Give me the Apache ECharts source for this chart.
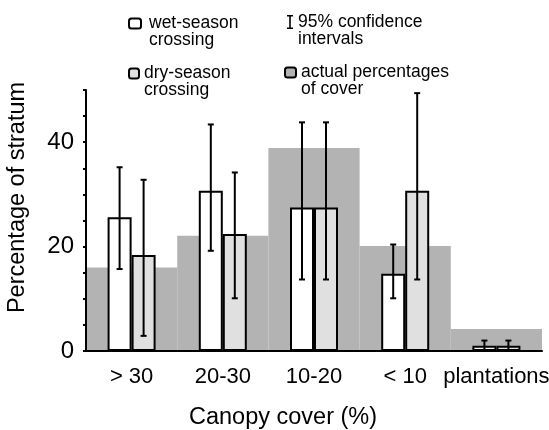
<!DOCTYPE html>
<html><head><meta charset="utf-8">
<script src="https://cdn.jsdelivr.net/npm/echarts@6/dist/echarts.min.js"></script>
<style>html,body{margin:0;padding:0;background:#fff}#c{width:549px;height:430px}</style>
</head><body><div id="c"></div>
<script>
const categories = ['> 30', '20-30', '10-20', '< 10', 'plantations'];
const coverActual = [16.0, 22.1, 38.9, 20.1, 4.2];
const wetSeason = [25.6, 30.7, 27.5, 14.8, 1.0];
const drySeason = [18.4, 22.4, 27.5, 30.7, 1.0];
const wetLow = [15.7, 19.2, 13.7, 10.1, 0];
const wetHigh = [35.2, 43.4, 43.8, 20.4, 2.0];
const dryLow = [2.9, 10.1, 13.7, 13.7, 0];
const dryHigh = [32.8, 34.2, 43.8, 49.4, 2.0];
const yTickLabels = [0, 20, 40];

const FONT = '"Liberation Sans", Arial, Helvetica, sans-serif';
const BAR_W = 24;
const names = {
  wet: 'wet-season crossing',
  dry: 'dry-season crossing',
  ci: '95% confidence intervals',
  cover: 'actual percentages of cover'
};
// a blank first line keeps the first visible line centred on the legend icon
const legendText = {};
legendText[names.wet] = ' \nwet-season\ncrossing';
legendText[names.dry] = ' \ndry-season\ncrossing';
legendText[names.ci] = ' \n95% confidence\nintervals';
legendText[names.cover] = ' \nactual percentages\nof cover';

const errData = [];
categories.forEach((c, i) => {
  errData.push([i, wetLow[i], wetHigh[i], -1]);
  errData.push([i, dryLow[i], dryHigh[i], 1]);
});

function renderErr(params, api) {
  const c = api.value(0), lo = api.value(1), hi = api.value(2), side = api.value(3);
  const pLo = api.coord([c, lo]);
  const pHi = api.coord([c, hi]);
  const x = pLo[0] + side * BAR_W / 2;
  const cap = 3;
  const st = { stroke: '#000', lineWidth: 2 };
  return {
    type: 'group',
    children: [
      { type: 'line', shape: { x1: x, y1: pLo[1], x2: x, y2: pHi[1] }, style: st },
      { type: 'line', shape: { x1: x - cap, y1: pHi[1], x2: x + cap, y2: pHi[1] }, style: st },
      { type: 'line', shape: { x1: x - cap, y1: pLo[1], x2: x + cap, y2: pLo[1] }, style: st }
    ]
  };
}

function mkLegend(name, left, top, w, h, padLeft, extra) {
  return Object.assign({
    data: [name],
    left: left, top: top,
    padding: 0,
    itemWidth: w, itemHeight: h,
    selectedMode: false,
    formatter: n => legendText[n],
    textStyle: { fontFamily: FONT, fontSize: 17.5, lineHeight: 17, color: '#000', padding: [0, 0, 0, padLeft] }
  }, extra || {});
}

const chart = echarts.init(document.getElementById('c'), null, { renderer: 'canvas' });
chart.setOption({
  animation: false,
  backgroundColor: '#fff',
  textStyle: { fontFamily: FONT },
  legend: [
    mkLegend(names.wet, 128, -2.5, 12, 10, 3),
    mkLegend(names.ci, 287, -4, 6, 14, 0, { data: [{ name: names.ci, icon: 'path://M0,0H6V1.6H3.8V12.4H6V14H0V12.4H2.2V1.6H0Z' }] }),
    mkLegend(names.dry, 128, 47.5, 10, 10, 0),
    mkLegend(names.cover, 284, 46.5, 11, 10, 0, { data: [{ name: names.cover, itemStyle: { borderColor: '#000', borderWidth: 2 } }] })
  ],
  grid: { left: 86, right: 7, top: 90, bottom: 79, outerBoundsMode: 'none', containLabel: false },
  xAxis: [
    {
      type: 'category', data: categories,
      name: 'Canopy cover (%)', nameLocation: 'middle', nameGap: 55,
      nameTextStyle: { fontSize: 23.5, color: '#000', fontFamily: FONT, padding: [0, 62, 0, 0] },
      axisLine: { lineStyle: { color: '#000', width: 2 } },
      axisTick: { length: 6, lineStyle: { color: '#000', width: 2 } },
      axisLabel: { fontSize: 22, color: '#000', margin: 15, fontFamily: FONT, interval: 0 },
      z: 5
    },
    { type: 'category', data: categories, show: false }
  ],
  yAxis: {
    type: 'value', min: 0, max: 50, interval: 5,
    name: 'Percentage of stratum', nameLocation: 'middle', nameGap: 56,
    nameTextStyle: { fontSize: 23.5, color: '#000', fontFamily: FONT, padding: [0, 0, 0, 46] },
    axisLine: { show: true, lineStyle: { color: '#000', width: 2 } },
    axisTick: { show: true, length: 3, lineStyle: { color: '#000', width: 2 } },
    axisLabel: { fontSize: 24, color: '#000', margin: 12, fontFamily: FONT, formatter: v => yTickLabels.includes(v) ? String(v) : '' },
    splitLine: { show: false },
    z: 5
  },
  series: [
    {
      name: names.cover, type: 'bar', xAxisIndex: 1, data: coverActual,
      barWidth: '100%', itemStyle: { color: '#b3b3b3' }, z: 1
    },
    {
      name: names.wet, type: 'bar', data: wetSeason, barWidth: BAR_W, barGap: '0%',
      itemStyle: { color: '#ffffff', borderColor: '#000', borderWidth: 2 }, z: 3
    },
    {
      name: names.dry, type: 'bar', data: drySeason, barWidth: BAR_W, barGap: '0%',
      itemStyle: { color: '#e0e0e0', borderColor: '#000', borderWidth: 2 }, z: 3
    },
    {
      name: names.ci, type: 'custom', data: errData, renderItem: renderErr,
      encode: { x: 0, y: [1, 2] }, itemStyle: { color: '#000' }, z: 4
    }
  ]
});
</script></body></html>
